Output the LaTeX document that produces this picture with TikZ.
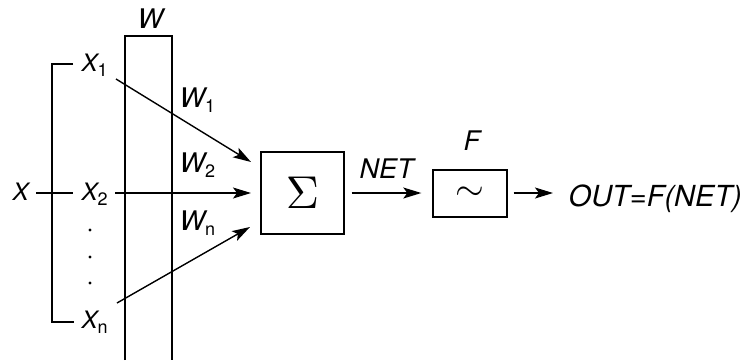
\documentclass[tikz,border=0pt]{standalone}
\usepackage{graphicx}
\usepackage{fontspec}
\setmainfont{TeX Gyre Heros}
\usetikzlibrary{arrows.meta}
\newcommand{\sbx}[1]{\raisebox{-5pt}{\fontsize{18}{18}\selectfont\upshape #1}}
\begin{document}
\begin{tikzpicture}[x=1pt,y=-1pt,line width=1.4pt,
  lblx/.style={font=\fontsize{24}{24}\selectfont\itshape,inner sep=0pt,anchor=base west},
  lbl/.style={font=\fontsize{27}{27}\selectfont\itshape,inner sep=0pt,anchor=base west},
  arr/.style={-{Stealth[length=18pt,width=11pt,inset=4pt]}},
  opbox/.style={draw,inner sep=0pt}]
\useasboundingbox (0,0) rectangle (743,360);
% weight column
\coordinate (wbl) at (125,360);
\coordinate (wtl) at (125,36);
\coordinate (wtr) at (172,36);
\coordinate (wbr) at (172,360);
\draw (wbl) -- (wtl) -- (wtr) -- (wbr);
\node[lbl] (W) at (137,28) {W};
% inputs
\node[lblx] (X) at (12,200) {X};
\node[lblx] (x1) at (81,71) {X\sbx{1}};
\node[lblx] (x2) at (81,200) {X\sbx{2}};
\node[lblx] (xn) at (81,328) {X\sbx{n}};
\foreach \yy [count=\i] in {230,257,283} \fill (90,\yy) circle (1.6pt) coordinate (dot\i);
% bracket
\coordinate (b1) at (73,64);
\coordinate (bt) at (52,64);
\coordinate (bb) at (52,322);
\coordinate (bn) at (74,322);
\draw (b1) -- (bt) -- (bb) -- (bn);
\coordinate (xl) at (36,193);
\coordinate (xr) at (73,193);
\draw (xl) -- (xr);
% weights labels
\node[lbl] (w1) at (179,107) {W\sbx{1}};
\node[lbl] (w2) at (179,172) {W\sbx{2}};
\node[lbl] (wn) at (179,230) {W\sbx{n}};
% summation
\node[opbox,minimum width=83pt,minimum height=82pt] (sum) at (302.5,193) {\scalebox{4.6}{$\Sigma$}};
% arrows into sum
\coordinate (s1) at (116,79);
\coordinate (e1) at (251,162);
\coordinate (s2) at (115,193);
\coordinate (e2) at (251,193);
\coordinate (sn) at (117,303);
\coordinate (en) at (250,227);
\draw[arr] (s1) -- (e1);
\draw[arr] (s2) -- (e2);
\draw[arr] (sn) -- (en);
% NET
\node[lbl] (net) at (359,178) {NET};
\node[opbox,minimum width=74pt,minimum height=47pt] (f) at (470,193.5) {\scalebox{3.7}{$\sim$}};
\node[lbl] (F) at (463,150) {F};
\draw[arr,shorten <=7pt,shorten >=11pt] (sum.east) -- (f.west |- sum.east);
% output
\node[lbl,font=\fontsize{29}{29}\selectfont\itshape] (out) at (568,206) {OUT=F(NET)};
\draw[arr,shorten <=6pt,shorten >=15pt] (f.east |- sum.east) -- (out.west |- sum.east);
\end{tikzpicture}
\end{document}
